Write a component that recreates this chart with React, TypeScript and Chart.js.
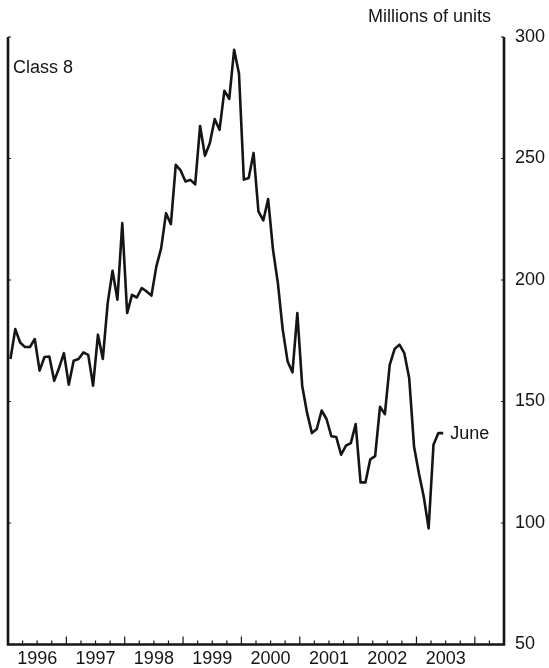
import React, { useEffect, useRef } from 'react';
import { Chart, registerables } from 'chart.js';

Chart.register(...registerables);

// Class 8 monthly values (millions of units), Jan 1996 - Jun 2003
const v1996 = [167.5, 179.8, 174.3, 172.4, 172.4, 175.7, 162.7, 168.3, 168.5, 158.5, 163.8, 169.9];
const v1997 = [156.9, 166.8, 167.5, 170.2, 169.2, 156.5, 177.5, 167.5, 190.5, 203.8, 191.9, 223.4];
const v1998 = [186.4, 193.9, 192.8, 196.7, 195.3, 193.6, 205.5, 213.1, 227.5, 223.0, 247.4, 245.1];
const v1999 = [240.5, 241.2, 239.4, 263.4, 251.1, 256.3, 266.2, 261.8, 277.9, 274.5, 294.7, 285.0];
const v2000 = [241.3, 242.0, 252.3, 228.2, 224.5, 233.3, 212.4, 198.7, 179.5, 166.5, 162.0, 186.4];
const v2001 = [156.5, 145.3, 137.0, 138.7, 146.3, 142.8, 135.7, 135.4, 128.1, 131.8, 132.9, 140.7];
const v2002 = [116.7, 116.7, 126.2, 127.5, 147.8, 144.8, 165.1, 171.6, 173.4, 169.9, 159.7, 131.5];
const v2003 = [120.5, 110.8, 97.8, 132.2, 137.0, 137.0];

const seriesYears = [1996, 1997, 1998, 1999, 2000, 2001, 2002, 2003];
const seriesByYear = [v1996, v1997, v1998, v1999, v2000, v2001, v2002, v2003];

const yearLabels = ['1996', '1997', '1998', '1999', '2000', '2001', '2002', '2003'];
const yTicks = [50, 100, 150, 200, 250, 300];

const unitLabel = 'Millions of units';
const seriesLabel = 'Class 8';
const endLabel = 'June';

const FONT_FAMILY = '"Liberation Sans", Arial, Helvetica, sans-serif';
const INK = '#151515';

export default function App() {
  const ref = useRef<HTMLCanvasElement | null>(null);

  useEffect(() => {
    const canvas = ref.current;
    if (!canvas) return;

    const points: { x: number; y: number }[] = [];
    seriesByYear.forEach((vals, yi) => {
      vals.forEach((v, m) => {
        points.push({ x: seriesYears[yi] + (m + 0.5) / 12, y: v });
      });
    });

    const decor = {
      id: 'decor',
      afterDraw(chart: any) {
        const { ctx, chartArea } = chart;
        const { left, right, top, bottom } = chartArea;
        const xs = chart.scales.x;
        const ys = chart.scales.y;
        ctx.save();
        ctx.strokeStyle = INK;
        ctx.lineCap = 'butt';
        // quarter / year tick marks on x axis (inward)
        ctx.lineWidth = 1.2;
        for (let i = 1; i < 34; i++) {
          const q = 1996 + i * 0.25;
          const px = xs.getPixelForValue(q);
          const len = i % 4 === 0 ? 8 : 4;
          ctx.beginPath();
          ctx.moveTo(px, bottom);
          ctx.lineTo(px, bottom - len);
          ctx.stroke();
        }
        // y tick marks (inward) on both axes
        for (const v of yTicks) {
          const py = ys.getPixelForValue(v);
          ctx.beginPath();
          ctx.moveTo(left, py);
          ctx.lineTo(left + 3, py);
          ctx.moveTo(right, py);
          ctx.lineTo(right - 3, py);
          ctx.stroke();
        }
        // axis frame (no top)
        ctx.lineWidth = 2.6;
        ctx.beginPath();
        ctx.moveTo(left, top);
        ctx.lineTo(left, bottom);
        ctx.lineTo(right, bottom);
        ctx.lineTo(right, top);
        ctx.stroke();
        // texts
        ctx.fillStyle = INK;
        ctx.font = `18px ${FONT_FAMILY}`;
        ctx.textBaseline = 'alphabetic';
        ctx.textAlign = 'right';
        ctx.fillText(unitLabel, 491, 21.7);
        ctx.textAlign = 'left';
        ctx.fillText(seriesLabel, left + 5, 72.7);
        const last = points[points.length - 1];
        const lx = xs.getPixelForValue(last.x);
        const ly = ys.getPixelForValue(last.y);
        ctx.fillText(endLabel, lx + 7, ly + 6);
        ctx.restore();
      },
    };

    const chart = new Chart(canvas, {
      type: 'line',
      data: {
        datasets: [
          {
            label: seriesLabel,
            data: points,
            borderColor: INK,
            borderWidth: 2.6,
            pointRadius: 0,
            tension: 0,
            borderJoinStyle: 'round',
            fill: false,
          },
        ],
      },
      options: {
        responsive: false,
        animation: false,
        devicePixelRatio: 1,
        layout: { padding: { left: 8, top: 37, right: 0, bottom: 0 } },
        plugins: {
          legend: { display: false },
          tooltip: { enabled: false },
          title: { display: false },
        },
        scales: {
          x: {
            type: 'linear',
            min: 1996,
            max: 2004.5,
            grid: { display: false, drawTicks: false },
            border: { display: false },
            afterBuildTicks: (s: any) => {
              s.ticks = yearLabels.map((_, i) => ({ value: 1996.5 + i }));
            },
            afterFit: (s: any) => {
              s.height = 23.5;
            },
            ticks: {
              autoSkip: false,
              maxRotation: 0,
              minRotation: 0,
              padding: 4,
              color: INK,
              font: { family: FONT_FAMILY, size: 18 },
              callback: (v: any) => yearLabels[Math.floor(Number(v)) - 1996] ?? '',
            },
          },
          y: {
            type: 'linear',
            position: 'right',
            min: 50,
            max: 300,
            grid: { display: false, drawTicks: false },
            border: { display: false },
            afterBuildTicks: (s: any) => {
              s.ticks = yTicks.map((v) => ({ value: v }));
            },
            afterFit: (s: any) => {
              s.width = 45;
            },
            ticks: {
              padding: 11,
              color: INK,
              font: { family: FONT_FAMILY, size: 18 },
              callback: (v: any) => String(v),
            },
          },
        },
      },
      plugins: [decor],
    });

    return () => chart.destroy();
  }, []);

  return (
    <div style={{ position: 'fixed', left: 0, top: 0, width: 549, height: 668, background: '#fff' }}>
      <canvas ref={ref} width={549} height={668} style={{ display: 'block' }} />
    </div>
  );
}
